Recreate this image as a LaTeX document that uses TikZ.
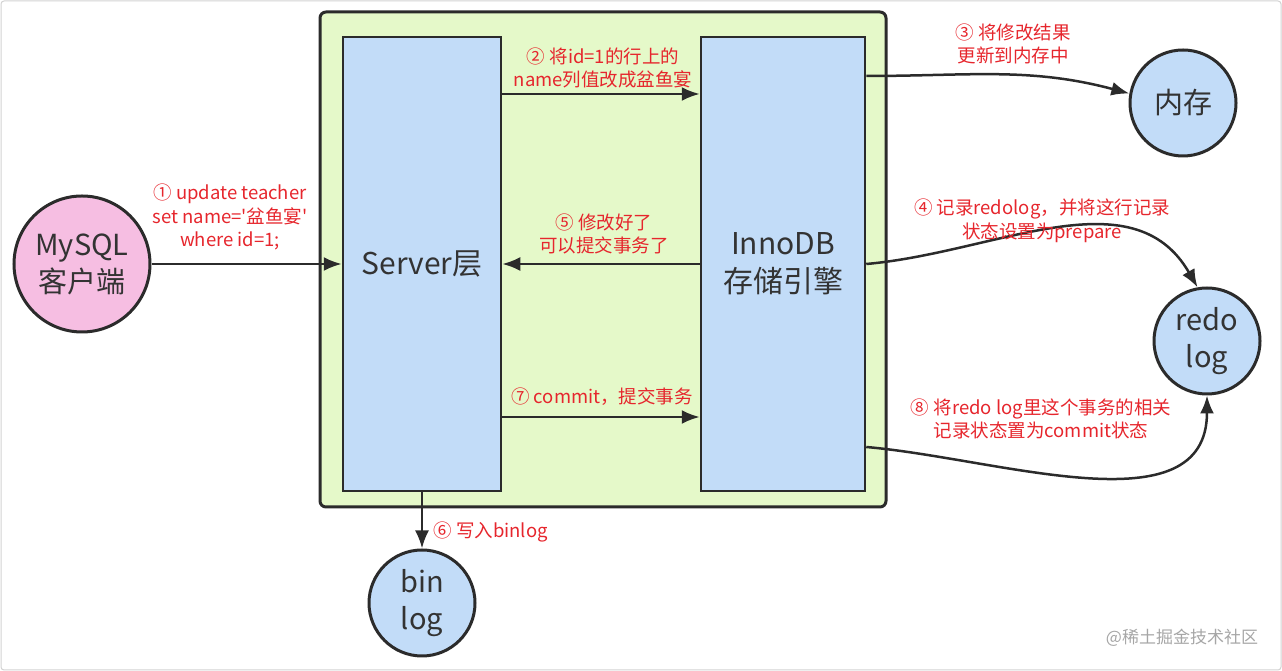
\documentclass[tikz,border=0pt]{standalone}
\usepackage{fontspec}
\newfontfamily\cjk{Noto Sans CJK SC}
\usetikzlibrary{arrows.meta}
\definecolor{vert}{RGB}{229,249,201}
\definecolor{bleu}{RGB}{194,220,248}
\definecolor{rose}{RGB}{246,190,226}
\definecolor{rouge}{RGB}{230,38,45}
\definecolor{trait}{RGB}{43,43,43}
\definecolor{texte}{RGB}{51,51,51}
\begin{document}
\begin{tikzpicture}[x=1pt,y=1pt]
\tikzstyle{boite}=[draw=trait,line width=2.5pt,fill=bleu,minimum width=158pt,minimum height=454pt,text=texte,align=center,font=\cjk\fontsize{30}{38}\selectfont] %blocs
\tikzstyle{rond}=[circle,draw=trait,line width=3pt,fill=bleu,minimum size=106pt,inner sep=0pt,text=texte,align=center,font=\cjk\fontsize{29}{37}\selectfont]
\tikzstyle{fleche}=[draw=trait,line width=2.5pt,-{Latex[length=18pt,width=14pt]}]
\tikzstyle{etiq}=[text=rouge,align=center,font=\cjk\fontsize{18.5}{23.5}\selectfont]

\useasboundingbox (0,0) rectangle (1282,671);
\draw[gray!35,line width=1pt,rounded corners=3pt] (1,1) rectangle (1281,670); %cadre

%fond vert
\draw[draw=trait,line width=3pt,fill=vert,rounded corners=6pt] (320,659) rectangle (886,164);

%les blocs et les ronds
\draw(422,407)node[boite](srv){Server层};
\draw(783,407)node[boite,minimum width=164pt](inno){InnoDB\\存储引擎};
\draw(82,407)node[rond,fill=rose,minimum size=136pt](cli){MySQL\\客户端};
\draw(1183,568)node[rond](mem){内存};
\draw(1207,330)node[rond](redo){redo\\log};
\draw(422,68)node[rond](bin){bin\\log};

%les fleches
\draw[fleche] (cli.east)--(srv.west);
\draw[fleche] ([yshift=170pt]srv.east)--([yshift=170pt]inno.west);
\draw[fleche] (inno.west)--(srv.east);
\draw[fleche] ([yshift=-153pt]srv.east)--([yshift=-153pt]inno.west);
\draw[fleche] (srv.south)--(bin.north);
\draw[fleche] ([yshift=188pt]inno.east) to[out=0,in=165] (mem.170);
\draw[fleche] (inno.east) to[out=5,in=120] (redo.100);
\draw[fleche] ([yshift=-183pt]inno.east) to[out=-5,in=-90] (redo.south);

%les etiquettes
\node[etiq] (e1) at (230,454) {① update teacher\\set name='盆鱼宴'\\where id=1;};
\node[etiq] (e2) at (603,603) {② 将id=1的行上的\\name列值改成盆鱼宴};
\node[etiq] (e3) at (1013,627) {③ 将修改结果\\更新到内存中};
\node[etiq] (e4) at (1042,450) {④ 记录redolog，并将这行记录\\状态设置为prepare};
\node[etiq] (e5) at (604,437) {⑤ 修改好了\\可以提交事务了};
\node[etiq,anchor=west] (e6) at (430,139) {⑥ 写入binlog};
\node[etiq] (e7) at (602,274) {⑦ commit，提交事务};
\node[etiq] (e8) at (1041,252) {⑧ 将redo log里这个事务的相关\\记录状态置为commit状态};

\node[text=gray!70,font=\cjk\fontsize{17}{17}\selectfont] (wm) at (1182,33) {@稀土掘金技术社区};
\end{tikzpicture}
\end{document}
